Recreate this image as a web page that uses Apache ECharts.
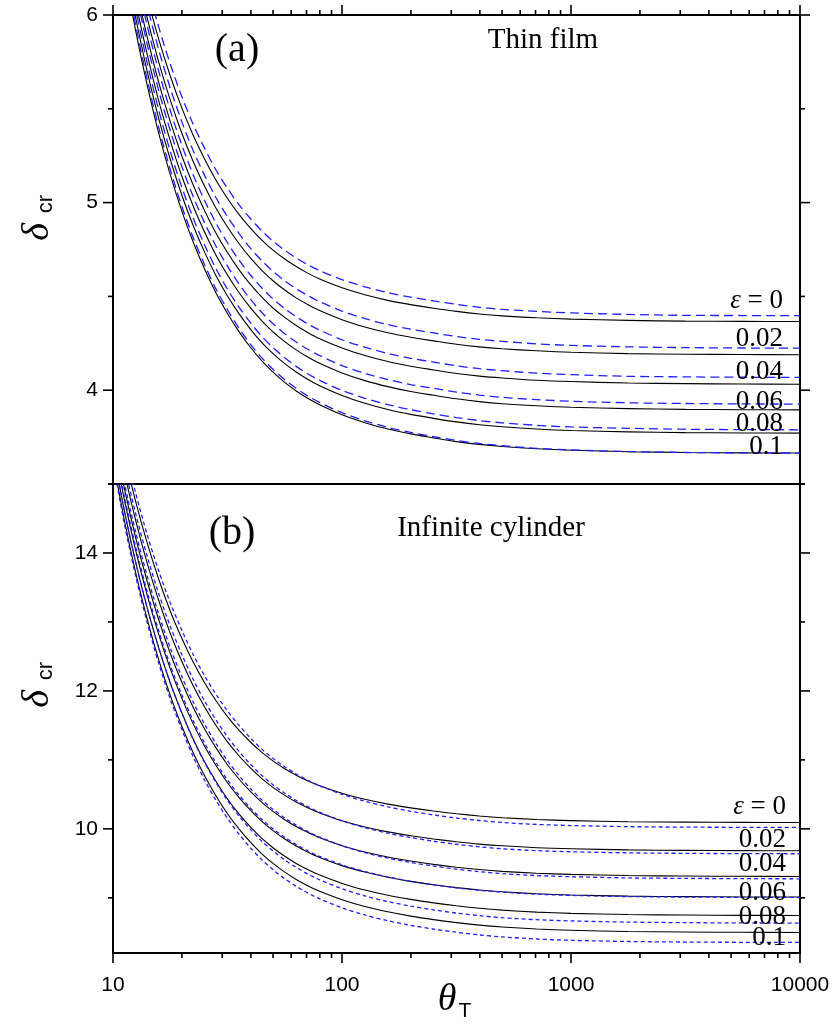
<!DOCTYPE html>
<html>
<head>
<meta charset="utf-8">
<script src="https://cdn.jsdelivr.net/npm/echarts@6/dist/echarts.min.js"></script>
<style>
  html, body { margin: 0; padding: 0; background: #fff; }
  #chart { width: 833px; height: 1027px; }
</style>
</head>
<body>
<div id="chart"></div>
<script>
// theta_T sample points (log-spaced) shared by every curve
const thetaGrid = [10, 11.22, 12.59, 14.13, 15.85, 17.78, 19.95, 22.39, 25.12, 28.18, 31.62, 35.48,
  39.81, 44.67, 50.12, 56.23, 63.10, 70.79, 79.43, 100, 125.9, 158.5, 199.5, 251.2, 316.2, 398.1,
  501.2, 707.9, 1000, 1778, 3162, 5623, 10000];

// (a) thin film: solid = black curves, dashed = blue curves, one per epsilon
const filmSolid0  = [6.981, 6.643, 6.348, 6.093, 5.869, 5.676, 5.506, 5.359, 5.232, 5.119, 5.022, 4.937, 4.864, 4.800, 4.745, 4.699, 4.659, 4.624, 4.594, 4.546, 4.509, 4.479, 4.456, 4.437, 4.420, 4.406, 4.396, 4.386, 4.379, 4.372, 4.368, 4.367, 4.366];
const filmSolid2  = [6.902, 6.551, 6.245, 5.981, 5.748, 5.548, 5.372, 5.219, 5.087, 4.970, 4.870, 4.782, 4.705, 4.639, 4.582, 4.534, 4.492, 4.457, 4.426, 4.376, 4.337, 4.306, 4.282, 4.263, 4.245, 4.231, 4.221, 4.210, 4.202, 4.195, 4.192, 4.190, 4.189];
const filmSolid4  = [6.828, 6.466, 6.151, 5.879, 5.639, 5.433, 5.251, 5.094, 4.957, 4.837, 4.734, 4.643, 4.564, 4.496, 4.437, 4.388, 4.345, 4.308, 4.276, 4.225, 4.185, 4.153, 4.128, 4.108, 4.089, 4.075, 4.065, 4.053, 4.046, 4.038, 4.035, 4.033, 4.032];
const filmSolid6  = [6.758, 6.387, 6.065, 5.786, 5.541, 5.330, 5.143, 4.982, 4.843, 4.719, 4.614, 4.521, 4.440, 4.370, 4.310, 4.259, 4.215, 4.177, 4.145, 4.092, 4.051, 4.019, 3.993, 3.973, 3.954, 3.939, 3.928, 3.917, 3.909, 3.902, 3.898, 3.896, 3.895];
const filmSolid8  = [6.685, 6.308, 5.980, 5.696, 5.446, 5.231, 5.042, 4.878, 4.736, 4.610, 4.502, 4.408, 4.326, 4.254, 4.194, 4.142, 4.097, 4.058, 4.025, 3.972, 3.930, 3.897, 3.871, 3.850, 3.831, 3.816, 3.805, 3.793, 3.785, 3.778, 3.774, 3.772, 3.771];
const filmSolid10 = [6.627, 6.244, 5.910, 5.622, 5.368, 5.149, 4.957, 4.790, 4.646, 4.518, 4.409, 4.312, 4.229, 4.156, 4.095, 4.042, 3.996, 3.957, 3.924, 3.869, 3.827, 3.793, 3.767, 3.746, 3.726, 3.711, 3.700, 3.688, 3.680, 3.672, 3.668, 3.666, 3.665];

const filmDashed0  = [7.046, 6.708, 6.413, 6.158, 5.934, 5.739, 5.567, 5.418, 5.289, 5.174, 5.076, 4.989, 4.915, 4.849, 4.793, 4.746, 4.705, 4.669, 4.639, 4.589, 4.551, 4.520, 4.496, 4.476, 4.458, 4.442, 4.431, 4.420, 4.412, 4.404, 4.399, 4.398, 4.397];
const filmDashed2  = [6.967, 6.616, 6.310, 6.046, 5.813, 5.611, 5.433, 5.278, 5.145, 5.026, 4.925, 4.836, 4.757, 4.690, 4.632, 4.583, 4.541, 4.505, 4.473, 4.422, 4.382, 4.350, 4.325, 4.305, 4.286, 4.271, 4.260, 4.247, 4.239, 4.231, 4.227, 4.225, 4.224];
const filmDashed4  = [6.888, 6.526, 6.211, 5.939, 5.699, 5.492, 5.308, 5.149, 5.011, 4.890, 4.786, 4.694, 4.614, 4.545, 4.485, 4.435, 4.392, 4.354, 4.322, 4.269, 4.229, 4.196, 4.170, 4.150, 4.130, 4.115, 4.104, 4.091, 4.083, 4.074, 4.071, 4.069, 4.068];
const filmDashed6  = [6.813, 6.442, 6.120, 5.841, 5.596, 5.384, 5.195, 5.032, 4.892, 4.767, 4.661, 4.567, 4.485, 4.414, 4.353, 4.301, 4.257, 4.218, 4.186, 4.131, 4.090, 4.057, 4.030, 4.010, 3.990, 3.974, 3.962, 3.950, 3.941, 3.933, 3.929, 3.927, 3.926];
const filmDashed8  = [6.730, 6.353, 6.025, 5.741, 5.491, 5.274, 5.084, 4.918, 4.774, 4.647, 4.538, 4.443, 4.360, 4.287, 4.226, 4.173, 4.127, 4.088, 4.054, 3.999, 3.957, 3.923, 3.896, 3.874, 3.854, 3.838, 3.826, 3.813, 3.804, 3.797, 3.792, 3.790, 3.789];
const filmDashed10 = [6.657, 6.274, 5.940, 5.652, 5.398, 5.177, 4.983, 4.814, 4.669, 4.539, 4.429, 4.331, 4.246, 4.172, 4.110, 4.056, 4.010, 3.970, 3.936, 3.880, 3.837, 3.802, 3.775, 3.753, 3.732, 3.716, 3.704, 3.690, 3.682, 3.673, 3.668, 3.666, 3.665];

// (b) infinite cylinder
const cylSolid0  = [16.213, 15.422, 14.735, 14.136, 13.616, 13.159, 12.766, 12.418, 12.118, 11.858, 11.628, 11.431, 11.259, 11.109, 10.982, 10.872, 10.778, 10.697, 10.628, 10.515, 10.428, 10.359, 10.304, 10.258, 10.219, 10.187, 10.162, 10.136, 10.120, 10.104, 10.097, 10.094, 10.092];
const cylSolid2  = [15.978, 15.165, 14.458, 13.842, 13.307, 12.837, 12.433, 12.075, 11.767, 11.499, 11.262, 11.060, 10.883, 10.728, 10.597, 10.485, 10.388, 10.305, 10.233, 10.117, 10.027, 9.956, 9.900, 9.853, 9.813, 9.779, 9.754, 9.727, 9.711, 9.695, 9.688, 9.684, 9.682];
const cylSolid4  = [15.768, 14.934, 14.209, 13.577, 13.028, 12.547, 12.132, 11.764, 11.448, 11.174, 10.930, 10.723, 10.542, 10.383, 10.249, 10.133, 10.034, 9.949, 9.875, 9.756, 9.664, 9.591, 9.533, 9.485, 9.444, 9.410, 9.384, 9.357, 9.340, 9.323, 9.316, 9.312, 9.310];
const cylSolid6  = [15.619, 14.766, 14.024, 13.377, 12.815, 12.323, 11.899, 11.522, 11.199, 10.918, 10.669, 10.457, 10.271, 10.109, 9.971, 9.853, 9.752, 9.665, 9.589, 9.467, 9.374, 9.299, 9.239, 9.190, 9.148, 9.113, 9.087, 9.059, 9.041, 9.024, 9.017, 9.013, 9.011];
const cylSolid8  = [15.477, 14.607, 13.851, 13.193, 12.620, 12.118, 11.686, 11.303, 10.973, 10.687, 10.433, 10.217, 10.028, 9.862, 9.723, 9.602, 9.499, 9.410, 9.333, 9.209, 9.113, 9.037, 8.977, 8.927, 8.884, 8.848, 8.821, 8.793, 8.775, 8.758, 8.750, 8.746, 8.744];
const cylSolid10 = [15.356, 14.470, 13.700, 13.029, 12.446, 11.935, 11.495, 11.104, 10.769, 10.477, 10.219, 9.999, 9.806, 9.637, 9.495, 9.372, 9.267, 9.176, 9.098, 8.972, 8.874, 8.797, 8.735, 8.684, 8.641, 8.604, 8.577, 8.548, 8.529, 8.512, 8.504, 8.500, 8.498];

const cylDashed0  = [16.333, 15.542, 14.855, 14.256, 13.736, 13.279, 12.886, 12.528, 12.219, 11.949, 11.710, 11.501, 11.318, 11.156, 11.019, 10.900, 10.796, 10.707, 10.629, 10.501, 10.400, 10.320, 10.255, 10.201, 10.157, 10.121, 10.092, 10.064, 10.048, 10.032, 10.025, 10.022, 10.020];
const cylDashed2  = [16.078, 15.265, 14.558, 13.942, 13.407, 12.937, 12.533, 12.168, 11.853, 11.578, 11.333, 11.123, 10.937, 10.774, 10.636, 10.516, 10.412, 10.323, 10.244, 10.117, 10.017, 9.937, 9.874, 9.821, 9.777, 9.740, 9.712, 9.684, 9.668, 9.652, 9.645, 9.641, 9.639];
const cylDashed4  = [15.848, 15.014, 14.289, 13.657, 13.108, 12.627, 12.212, 11.838, 11.517, 11.237, 10.987, 10.773, 10.586, 10.420, 10.280, 10.158, 10.054, 9.963, 9.884, 9.756, 9.656, 9.576, 9.513, 9.460, 9.416, 9.379, 9.351, 9.323, 9.306, 9.289, 9.282, 9.278, 9.276];
const cylDashed6  = [15.669, 14.816, 14.074, 13.427, 12.865, 12.373, 11.949, 11.569, 11.243, 10.960, 10.708, 10.492, 10.303, 10.138, 9.997, 9.876, 9.772, 9.683, 9.604, 9.478, 9.381, 9.303, 9.240, 9.188, 9.145, 9.109, 9.082, 9.053, 9.035, 9.018, 9.011, 9.007, 9.005];
const cylDashed8  = [15.477, 14.607, 13.851, 13.193, 12.620, 12.118, 11.686, 11.297, 10.962, 10.670, 10.411, 10.188, 9.993, 9.820, 9.676, 9.549, 9.441, 9.347, 9.265, 9.132, 9.028, 8.946, 8.880, 8.826, 8.779, 8.741, 8.712, 8.683, 8.665, 8.648, 8.640, 8.636, 8.634];
const cylDashed10 = [15.306, 14.420, 13.650, 12.979, 12.396, 11.885, 11.445, 11.049, 10.709, 10.413, 10.150, 9.924, 9.726, 9.551, 9.404, 9.276, 9.167, 9.071, 8.989, 8.855, 8.751, 8.668, 8.601, 8.547, 8.501, 8.462, 8.433, 8.403, 8.384, 8.367, 8.359, 8.355, 8.353];

// epsilon labels
const epsLabels = ['0', '0.02', '0.04', '0.06', '0.08', '0.1'];

// axis ticks and tick labels
const xMajorTicks = [10, 100, 1000, 10000];
const xTickLabels = ['10', '100', '1000', '10000'];
const xMinorTicks = [20, 30, 40, 50, 60, 70, 80, 90, 200, 300, 400, 500, 600, 700, 800, 900,
                     2000, 3000, 4000, 5000, 6000, 7000, 8000, 9000];
const filmYMajor = [4, 5, 6];
const filmYLabels = ['4', '5', '6'];
const filmYMinor = [3.5, 4.5, 5.5];
const cylYMajor = [10, 12, 14];
const cylYLabels = ['10', '12', '14'];
const cylYMinor = [9, 11, 13, 15];

const filmRange = [3.5, 6];
const cylRange = [8.2, 15];
const thetaRange = [10, 10000];

const BLUE = '#1f1fff';
const SANS = '"Liberation Sans", Arial, sans-serif';
const SERIF = '"Liberation Serif", "Times New Roman", serif';

const chart = echarts.init(document.getElementById('chart'), null, { renderer: 'canvas' });

function pairs(ys) { return thetaGrid.map((t, i) => [t, ys[i]]); }

function curve(ys, gridIdx, dashed, dash) {
  return {
    type: 'line',
    xAxisIndex: gridIdx * 2,
    yAxisIndex: gridIdx * 2,
    data: pairs(ys),
    showSymbol: false,
    symbol: 'none',
    smooth: 0.3,
    clip: true,
    silent: true,
    animation: false,
    z: dashed ? 3 : 2,
    lineStyle: dashed
      ? { color: BLUE, width: 1.3, type: dash }
      : { color: '#000', width: 1.1, type: 'solid' }
  };
}

// Tick items: [x, y, kind, labelIndex]
// kinds: 0 top minor, 1 top major, 2 bottom minor, 3 bottom major + label,
//        4 left minor, 5 left major + label, 6 right minor, 7 right major
function tickData(yRange, yMajor, yMinor, topTicks, bottomTicks) {
  const d = [];
  if (topTicks) {
    xMinorTicks.forEach(v => d.push([v, yRange[1], 0, -1]));
    xMajorTicks.forEach(v => d.push([v, yRange[1], 1, -1]));
  }
  if (bottomTicks) {
    xMinorTicks.forEach(v => d.push([v, yRange[0], 2, -1]));
    xMajorTicks.forEach((v, i) => d.push([v, yRange[0], 3, i]));
  }
  yMinor.forEach(v => { d.push([thetaRange[0], v, 4, -1]); d.push([thetaRange[1], v, 6, -1]); });
  yMajor.forEach((v, i) => { d.push([thetaRange[0], v, 5, i]); d.push([thetaRange[1], v, 7, -1]); });
  return d;
}

function tickSeries(gridIdx, data, yLabels) {
  return {
    type: 'custom',
    xAxisIndex: gridIdx * 2,
    yAxisIndex: gridIdx * 2,
    coordinateSystem: 'cartesian2d',
    clip: false,
    silent: true,
    animation: false,
    z: 10,
    encode: { x: 0, y: 1 },
    data: data,
    renderItem: function (params, api) {
      const p = api.coord([api.value(0), api.value(1)]);
      const kind = api.value(2);
      const li = api.value(3);
      const minor = 5, major = 10;
      let x2 = p[0], y2 = p[1];
      if (kind === 0) y2 -= minor;
      else if (kind === 1) y2 -= major;
      else if (kind === 2) y2 += minor;
      else if (kind === 3) y2 += major;
      else if (kind === 4) x2 -= minor;
      else if (kind === 5) x2 -= major;
      else if (kind === 6) x2 += minor;
      else if (kind === 7) x2 += major;
      const children = [{
        type: 'line',
        shape: { x1: p[0], y1: p[1], x2: x2, y2: y2 },
        style: { stroke: '#000', lineWidth: 1.6 }
      }];
      if (kind === 3) {
        children.push({
          type: 'text',
          style: {
            x: p[0], y: p[1] + 32, text: xTickLabels[li],
            font: '21px ' + SANS, fill: '#000',
            textAlign: 'center', textVerticalAlign: 'middle', verticalAlign: 'middle'
          }
        });
      } else if (kind === 5) {
        children.push({
          type: 'text',
          style: {
            x: p[0] - 15, y: p[1], text: yLabels[li],
            font: '21px ' + SANS, fill: '#000',
            textAlign: 'right', textVerticalAlign: 'middle', verticalAlign: 'middle'
          }
        });
      }
      return { type: 'group', children: children };
    }
  };
}

const frameLine = { show: true, onZero: false, lineStyle: { color: '#000', width: 2 } };
function xAxisDef(gridIdx, position) {
  return {
    type: 'log', logBase: 10, gridIndex: gridIdx, position: position,
    min: thetaRange[0], max: thetaRange[1],
    axisLine: frameLine, axisTick: { show: false }, axisLabel: { show: false },
    splitLine: { show: false }, minorTick: { show: false }
  };
}
function yAxisDef(gridIdx, position, range) {
  return {
    type: 'value', gridIndex: gridIdx, position: position,
    min: range[0], max: range[1],
    axisLine: frameLine, axisTick: { show: false }, axisLabel: { show: false },
    splitLine: { show: false }
  };
}

const film = [filmSolid0, filmSolid2, filmSolid4, filmSolid6, filmSolid8, filmSolid10];
const filmD = [filmDashed0, filmDashed2, filmDashed4, filmDashed6, filmDashed8, filmDashed10];
const cyl = [cylSolid0, cylSolid2, cylSolid4, cylSolid6, cylSolid8, cylSolid10];
const cylD = [cylDashed0, cylDashed2, cylDashed4, cylDashed6, cylDashed8, cylDashed10];

const series = [];
film.forEach(ys => series.push(curve(ys, 0, false)));
filmD.forEach(ys => series.push(curve(ys, 0, true, [9, 5])));
cyl.forEach(ys => series.push(curve(ys, 1, false)));
cylD.forEach(ys => series.push(curve(ys, 1, true, [4, 3])));
series.push(tickSeries(0, tickData(filmRange, filmYMajor, filmYMinor, true, false), filmYLabels));
series.push(tickSeries(1, tickData(cylRange, cylYMajor, cylYMinor, false, true), cylYLabels));

// epsilon tags at the right end of each pair of curves
const filmTagY = [301, 339, 372, 402, 424, 447];
const cylTagY = [807, 840, 864, 893, 917, 938];
function epsTags(ys, right) {
  return ys.map((y, i) => ({
    type: 'text',
    x: right, y: y,
    style: i === 0
      ? { text: '{e|ε} = 0', rich: { e: { font: 'italic 27px ' + SERIF, fill: '#000' } },
          font: '27px ' + SERIF, fill: '#000', textAlign: 'right', textVerticalAlign: 'middle', verticalAlign: 'middle' }
      : { text: epsLabels[i], font: '27px ' + SERIF, fill: '#000',
          textAlign: 'right', textVerticalAlign: 'middle', verticalAlign: 'middle' },
    z: 20
  }));
}

function deltaTitle(cx, cy) {
  return {
    type: 'group', x: cx, y: cy, rotation: Math.PI / 2, z: 20,
    children: [
      { type: 'text', x: -14, y: 0, style: { text: 'δ', font: 'italic 38px ' + SERIF, fill: '#000',
        textAlign: 'center', textVerticalAlign: 'middle', verticalAlign: 'middle' } },
      { type: 'text', x: 14, y: 8, style: { text: 'cr', font: '22px ' + SANS, fill: '#000',
        textAlign: 'center', textVerticalAlign: 'middle', verticalAlign: 'middle' } }
    ]
  };
}

const graphic = [
  { type: 'text', x: 237, y: 50, z: 20, style: { text: '(a)', font: '40px ' + SERIF, fill: '#000',
    textAlign: 'center', textVerticalAlign: 'middle', verticalAlign: 'middle' } },
  { type: 'text', x: 543, y: 40, z: 20, style: { text: 'Thin film', font: '29px ' + SERIF, fill: '#000',
    textAlign: 'center', textVerticalAlign: 'middle', verticalAlign: 'middle' } },
  { type: 'text', x: 232, y: 533, z: 20, style: { text: '(b)', font: '40px ' + SERIF, fill: '#000',
    textAlign: 'center', textVerticalAlign: 'middle', verticalAlign: 'middle' } },
  { type: 'text', x: 491, y: 528, z: 20, style: { text: 'Infinite cylinder', font: '29px ' + SERIF, fill: '#000',
    textAlign: 'center', textVerticalAlign: 'middle', verticalAlign: 'middle' } },
  deltaTitle(38, 218),
  deltaTitle(38, 685),
  { type: 'text', x: 447, y: 1000, z: 20, style: { text: 'θ', font: 'italic 38px ' + SERIF, fill: '#000',
    textAlign: 'center', textVerticalAlign: 'middle', verticalAlign: 'middle' } },
  { type: 'text', x: 465, y: 1011, z: 20, style: { text: 'T', font: '21px ' + SANS, fill: '#000',
    textAlign: 'center', textVerticalAlign: 'middle', verticalAlign: 'middle' } }
].concat(epsTags(filmTagY, 783), epsTags(cylTagY, 786));

chart.setOption({
  animation: false,
  backgroundColor: '#fff',
  grid: [
    { left: 113, top: 15, width: 687, height: 469 },
    { left: 113, top: 484, width: 687, height: 469 }
  ],
  xAxis: [xAxisDef(0, 'bottom'), xAxisDef(0, 'top'), xAxisDef(1, 'bottom'), xAxisDef(1, 'top')],
  yAxis: [yAxisDef(0, 'left', filmRange), yAxisDef(0, 'right', filmRange),
          yAxisDef(1, 'left', cylRange), yAxisDef(1, 'right', cylRange)],
  series: series,
  graphic: graphic
});
</script>
</body>
</html>
